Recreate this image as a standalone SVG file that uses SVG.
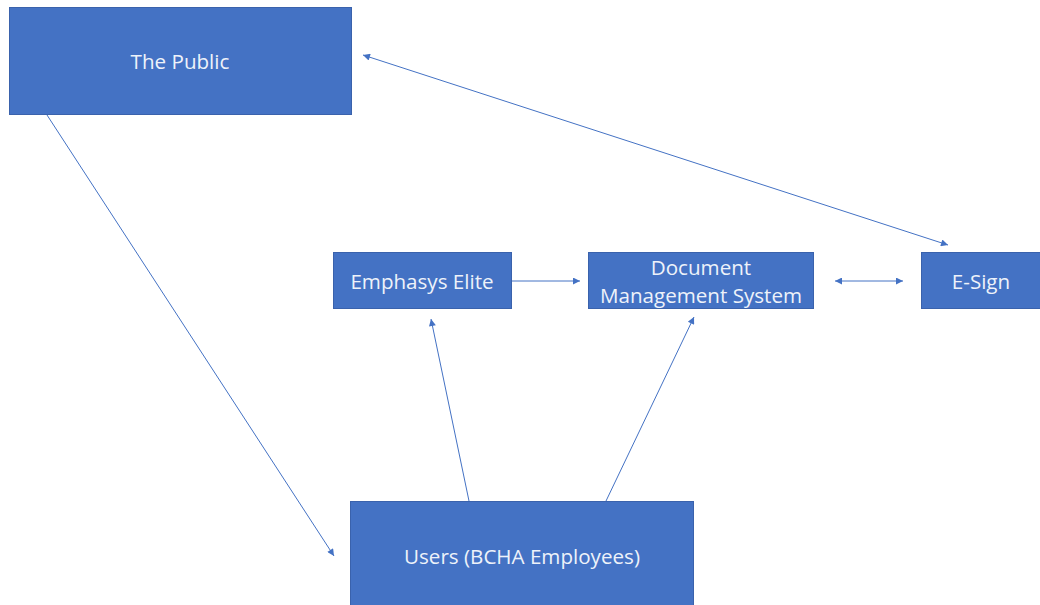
<svg xmlns="http://www.w3.org/2000/svg" width="1040" height="605" viewBox="0 0 1040 605">
  <style>
    .box { fill: #4472C4; stroke: #3A62AC; stroke-width: 1; }
    .label { fill: #EEF2FA; font-family: "Open Sans", "Liberation Sans", sans-serif; font-size: 20.6px; text-anchor: middle; dominant-baseline: central; }
    .link { stroke: #4472C4; stroke-width: 1; fill: none; }
  </style>
  <defs>
    <marker id="head" viewBox="0 0 10 10" refX="10" refY="5" markerWidth="9" markerHeight="7" markerUnits="userSpaceOnUse" orient="auto-start-reverse">
      <path d="M0,0 L10,5 L0,10 Z" fill="#4472C4"/>
    </marker>
  </defs>
  <rect width="1040" height="605" fill="#FFFFFF"/>

  <g id="connectors">
    <line class="link" x1="363" y1="55" x2="948" y2="245" marker-start="url(#head)" marker-end="url(#head)"/>
    <line class="link" x1="47" y1="115" x2="334" y2="556" marker-end="url(#head)"/>
    <line class="link" x1="512" y1="281" x2="580" y2="281" marker-end="url(#head)"/>
    <line class="link" x1="835" y1="281" x2="903" y2="281" marker-start="url(#head)" marker-end="url(#head)"/>
    <line class="link" x1="469" y1="501" x2="431" y2="319" marker-end="url(#head)"/>
    <line class="link" x1="606" y1="501" x2="694" y2="317" marker-end="url(#head)"/>
  </g>

  <g id="the-public">
    <rect class="box" x="9.5" y="7.5" width="342" height="107"/>
    <text class="label" x="180" y="61">The Public</text>
  </g>

  <g id="emphasys-elite">
    <rect class="box" x="333.5" y="252.5" width="178" height="56"/>
    <text class="label" x="422" y="281">Emphasys Elite</text>
  </g>

  <g id="document-management-system">
    <rect class="box" x="588.5" y="252.5" width="225" height="56"/>
    <text class="label" x="701" y="267">Document</text>
    <text class="label" x="701" y="295">Management System</text>
  </g>

  <g id="e-sign">
    <rect class="box" x="921.5" y="252.5" width="125" height="56"/>
    <text class="label" x="981" y="281">E-Sign</text>
  </g>

  <g id="users">
    <rect class="box" x="350.5" y="501.5" width="343" height="110"/>
    <text class="label" x="522" y="556">Users (BCHA Employees)</text>
  </g>
</svg>
